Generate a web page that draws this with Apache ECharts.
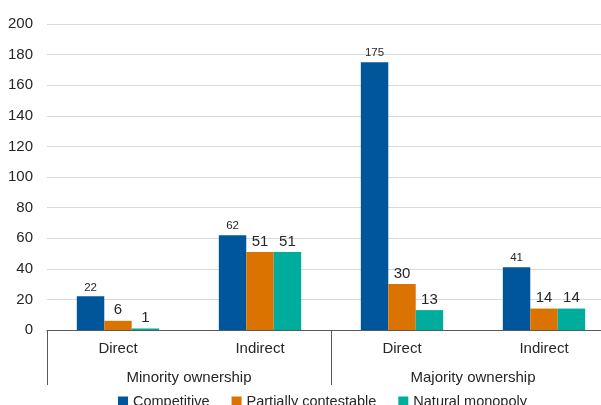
<!DOCTYPE html>
<html><head><meta charset="utf-8">
<script src="https://cdn.jsdelivr.net/npm/echarts@6/dist/echarts.min.js"></script>
<style>html,body{margin:0;padding:0;background:#fff;overflow:hidden;width:601px;height:405px}#c{width:615px;height:405px}</style>
</head><body><div id="c"></div>
<script>
const categories = ['Direct','Indirect','Direct','Indirect'];
const groups = ['Minority ownership','Majority ownership'];
const seriesNames = ['Competitive','Partially contestable','Natural monopoly'];
const competitive = [22,62,175,41];
const partial = [6,51,30,14];
const natural = [1,51,13,14];
const yTicks = {min:0,max:200,interval:20};

const FONT = '"Liberation Sans", Arial, sans-serif';
const colors = ['#00569A','#DA7300','#00AD9C'];
const chart = echarts.init(document.getElementById('c'));
function bar(name, data, color, fs){
  return {name, type:'bar', data, xAxisIndex:0, barGap:'0%', barCategoryGap:'42%',
    itemStyle:{color},
    label:{show:true, position:'top', distance:3, color:'#262626', fontFamily:FONT, fontSize:fs}};
}
chart.setOption({
  animation:false,
  color:colors,
  grid:{left:47,right:0,top:24,bottom:75,containLabel:false},
  legend:{data:seriesNames, left:113, top:389, icon:'rect', itemWidth:10, itemHeight:10, itemGap:22,
    textStyle:{fontFamily:FONT,fontSize:14.5,color:'#262626'}},
  xAxis:[
    {type:'category', data:categories, position:'bottom',
      axisLine:{show:true,lineStyle:{color:'#595959',width:1}}, axisTick:{show:false},
      axisLabel:{margin:11,fontFamily:FONT,fontSize:15,color:'#262626'}},
    {type:'category', data:groups, position:'bottom', offset:0,
      axisLine:{show:false}, axisTick:{show:true,length:55,lineStyle:{color:'#595959'}},
      axisLabel:{margin:40,fontFamily:FONT,fontSize:15,color:'#262626'}}
  ],
  yAxis:{type:'value', min:yTicks.min, max:yTicks.max, interval:yTicks.interval,
    axisLine:{show:false}, axisTick:{show:false},
    splitLine:{lineStyle:{color:'#d9d9d9'}},
    axisLabel:{margin:14,fontFamily:FONT,fontSize:15,color:'#262626'}},
  series:[
    bar(seriesNames[0], competitive, colors[0], 11.5),
    bar(seriesNames[1], partial, colors[1], 15),
    bar(seriesNames[2], natural, colors[2], 15)
  ]
});
</script></body></html>
